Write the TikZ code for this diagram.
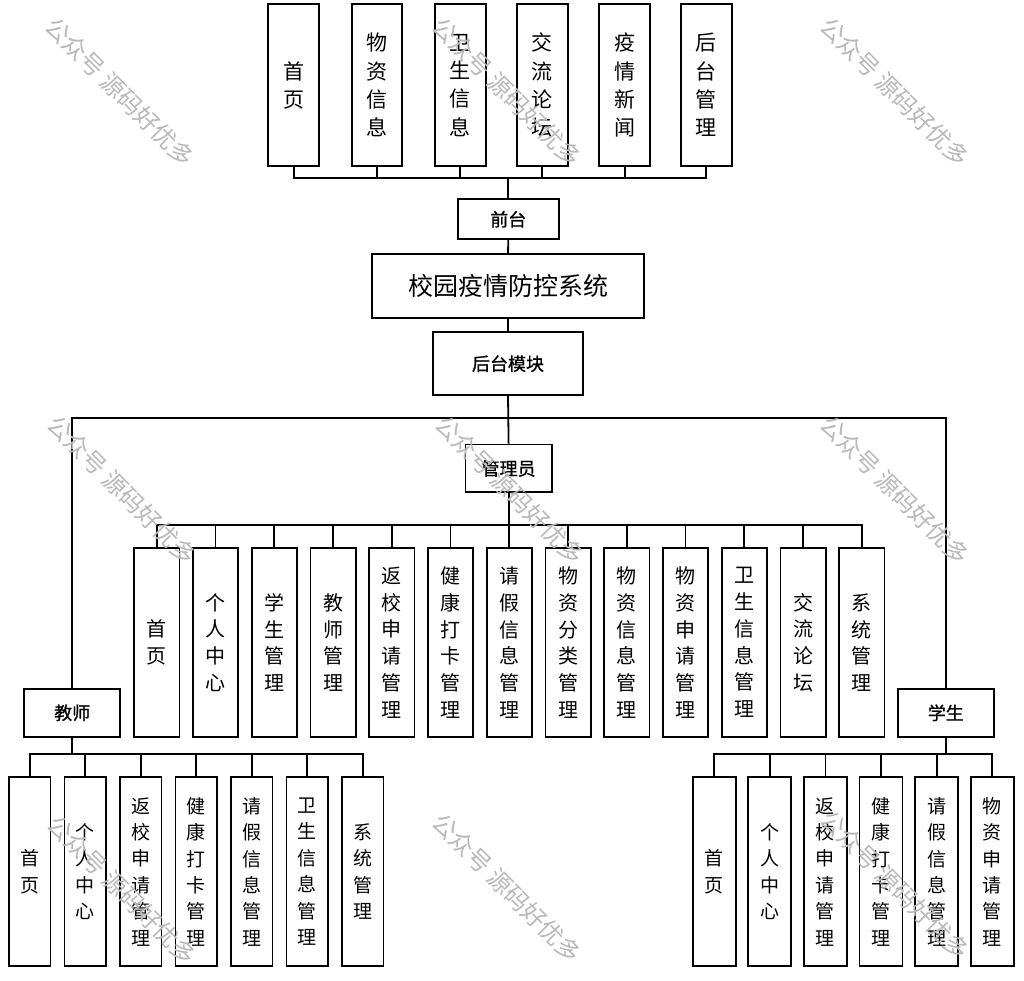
\documentclass[tikz,border=0pt]{standalone}
\usepackage{fontspec}
\setmainfont{Noto Sans CJK SC}
\newfontfamily\cjkb[FakeBold=1]{Noto Sans CJK SC}
\begin{document}
\begin{tikzpicture}[x=1pt,y=-1pt,
  box/.style={draw, line width=1.8pt, inner sep=0pt, align=center, fill=white},
  topbox/.style={box, minimum width=50.7pt, minimum height=161.7pt, font=\fontsize{21}{28.3}\selectfont},
  admbox/.style={box, minimum width=45.3pt, minimum height=188.4pt, font=\fontsize{20}{26.7}\selectfont},
  jsbox/.style={box, minimum width=41.5pt, minimum height=188.7pt, font=\fontsize{19}{26.4}\selectfont},
  xsbox/.style={box, minimum width=43pt, minimum height=188.7pt, font=\fontsize{19}{26.4}\selectfont},
  midbox/.style={box, font=\cjkb\fontsize{18}{22}\selectfont},
  conn/.style={line width=1.8pt},
  wm/.style={text=gray!55, font=\fontsize{24}{26}\selectfont, rotate=-45, inner sep=0pt}
]
\useasboundingbox (0,0) rectangle (1024,980);
\fill[white] (0,0) rectangle (1024,980);

% top row
\node[topbox] (t1) at (293.7,85.2) {首\\页};
\node[topbox] (t2) at (377.0,85.2) {物\\资\\信\\息};
\node[topbox] (t3) at (460.3,85.2) {卫\\生\\信\\息};
\node[topbox] (t4) at (542.3,85.2) {交\\流\\论\\坛};
\node[topbox] (t5) at (624.7,85.2) {疫\\情\\新\\闻};
\node[topbox] (t6) at (706.3,85.2) {后\\台\\管\\理};

\node[midbox, minimum width=101.3pt, minimum height=40pt] (qt) at (508.3,219.3) {前台};
\node[box, minimum width=272.6pt, minimum height=63.4pt, font=\fontsize{25}{28}\selectfont] (title) at (508,286) {校园疫情防控系统};
\node[midbox, minimum width=150.6pt, minimum height=62.7pt] (ht) at (508,363.7) {后台模块};
\node[midbox, minimum width=86.2pt, minimum height=47.8pt] (gl) at (508.6,468.4) {管理员};
\node[midbox, minimum width=96.3pt, minimum height=47.7pt] (js) at (72.2,712.8) {教师};
\node[midbox, minimum width=95.7pt, minimum height=47.7pt] (xs) at (945.8,712.8) {学生};

% admin row
\node[admbox] (a1) at (156.80,642.5) {首\\页};
\node[admbox] (a2) at (215.55,642.5) {个\\人\\中\\心};
\node[admbox] (a3) at (274.30,642.5) {学\\生\\管\\理};
\node[admbox] (a4) at (333.05,642.5) {教\\师\\管\\理};
\node[admbox] (a5) at (391.80,642.5) {返\\校\\申\\请\\管\\理};
\node[admbox] (a6) at (450.55,642.5) {健\\康\\打\\卡\\管\\理};
\node[admbox] (a7) at (509.30,642.5) {请\\假\\信\\息\\管\\理};
\node[admbox] (a8) at (568.05,642.5) {物\\资\\分\\类\\管\\理};
\node[admbox] (a9) at (626.80,642.5) {物\\资\\信\\息\\管\\理};
\node[admbox] (a10) at (685.55,642.5) {物\\资\\申\\请\\管\\理};
\node[admbox] (a11) at (744.30,642.5) {卫\\生\\信\\息\\管\\理};
\node[admbox] (a12) at (803.05,642.5) {交\\流\\论\\坛};
\node[admbox] (a13) at (861.80,642.5) {系\\统\\管\\理};

% teacher row
\node[jsbox] (j1) at (29.8,871.7) {首\\页};
\node[jsbox] (j2) at (85.3,871.7) {个\\人\\中\\心};
\node[jsbox] (j3) at (140.8,871.7) {返\\校\\申\\请\\管\\理};
\node[jsbox] (j4) at (196.3,871.7) {健\\康\\打\\卡\\管\\理};
\node[jsbox] (j5) at (251.8,871.7) {请\\假\\信\\息\\管\\理};
\node[jsbox] (j6) at (307.3,871.7) {卫\\生\\信\\息\\管\\理};
\node[jsbox] (j7) at (362.8,871.7) {系\\统\\管\\理};

% student row
\node[xsbox] (s1) at (714.2,871.7) {首\\页};
\node[xsbox] (s2) at (769.8,871.7) {个\\人\\中\\心};
\node[xsbox] (s3) at (825.4,871.7) {返\\校\\申\\请\\管\\理};
\node[xsbox] (s4) at (881.0,871.7) {健\\康\\打\\卡\\管\\理};
\node[xsbox] (s5) at (936.6,871.7) {请\\假\\信\\息\\管\\理};
\node[xsbox] (s6) at (992.2,871.7) {物\\资\\申\\请\\管\\理};

% bus coordinates
\coordinate (tb) at (508.3,178.3);
\coordinate (hb) at (508.3,418.3);
\coordinate (ab) at (508.6,525);
\coordinate (jb) at (72.2,754);
\coordinate (sb) at (945.8,754);

% connectors
\foreach \i in {1,...,6} \draw[conn] (t\i.south) |- (tb);
\draw[conn] (tb) -- (qt.north);
\draw[conn] (qt.south) -- (title.north);
\draw[conn] (title.south) -- (ht.north);
\draw[conn] (ht.south) -- (gl.north);
\draw[conn] (js.north) |- (hb) -| (xs.north);
\draw[conn] (gl.south) -- (ab);
\foreach \i in {1,...,13} \draw[conn] (a\i.north) |- (ab);
\draw[conn] (js.south) -- (jb);
\foreach \i in {1,...,7} \draw[conn] (j\i.north) |- (jb);
\draw[conn] (xs.south) -- (sb);
\foreach \i in {1,...,6} \draw[conn] (s\i.north) |- (sb);

% watermarks
\node[wm] (w1) at (120,92) {公众号 源码好优多};
\node[wm] (w2) at (507,92) {公众号 源码好优多};
\node[wm] (w3) at (895,92) {公众号 源码好优多};
\node[wm] (w4) at (122,490) {公众号 源码好优多};
\node[wm] (w5) at (510,490) {公众号 源码好优多};
\node[wm] (w6) at (895,490) {公众号 源码好优多};
\node[wm] (w7) at (122,890) {公众号 源码好优多};
\node[wm] (w8) at (507,888) {公众号 源码好优多};
\node[wm] (w9) at (895,885) {公众号 源码好优多};
\end{tikzpicture}
\end{document}
